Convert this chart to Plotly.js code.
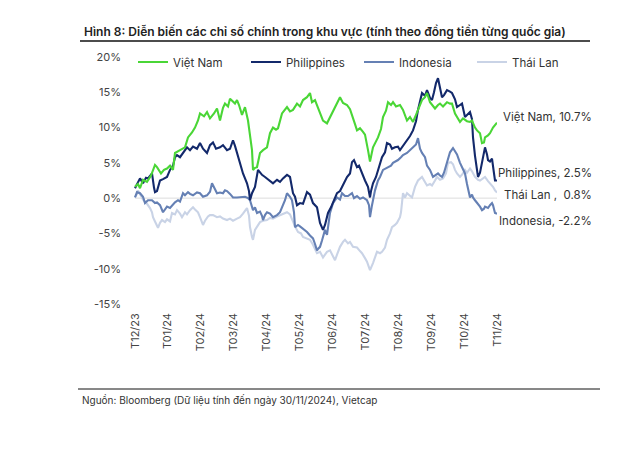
<!DOCTYPE html>
<html><head><meta charset="utf-8">
<script src="https://cdn.plot.ly/plotly-3.0.1.min.js"></script>
<style>html,body{margin:0;padding:0;background:#fff}#c{width:636px;height:473px}</style>
</head><body><div id="c"></div>
<script>
const monthLabels = ["T12/23","T01/24","T02/24","T03/24","T04/24","T05/24","T06/24","T07/24","T08/24","T09/24","T10/24","T11/24"];
const yTickVals = [-15,-10,-5,0,5,10,15,20];
const yTickText = ["-15%","-10%","-5%","0%","5%","10%","15%","20%"];
const seriesNames = ["Việt Nam","Philippines","Indonesia","Thái Lan"];

const vnX = [0,3,5,8,12,16,20,22,26,29,32,35,38,40,45,50,53,57,60,63,65,69,72,75,79,82,85,88,90,93,95,98,100,102,104,107,110,113,115,117,118,120,122,125,128,132,135,138,141,143,147,150,152,155,158,162,165,168,172,175,177,180,183,185,188,192,195,197,200,202,205,208,212,215,218,220,222,225,228,230,233,235,238,241,243,246,248,251,253,256,258,261,265,268,272,275,278,281,283,287,290,292,295,297,300,303,305,308,312,315,317,320,322,325,328,332,335,337,340,342,345,347,349,350,353,355,358,360,362];
const vnY = [1.6,2.0,1.4,2.6,2.3,3.2,4.7,4.4,3.5,4.0,4.2,4.6,4.0,6.4,6.8,7.2,8.6,9.3,10.0,11.0,12.0,11.6,12.2,11.3,12.0,12.7,11.0,12.8,13.4,13.0,14.1,13.6,13.4,13.9,13.2,11.8,12.9,11.0,9.0,6.8,4.0,4.3,4.4,6.4,6.8,7.2,9.2,10.0,9.7,9.9,12.0,12.5,12.9,12.3,12.5,13.4,13.0,13.9,14.3,14.9,13.6,13.9,12.9,12.2,11.0,10.6,11.5,12.0,12.8,13.6,14.3,13.5,13.2,12.6,11.5,10.5,9.6,9.9,9.4,9.0,6.8,5.2,7.2,8.0,8.6,9.8,11.5,12.4,13.6,13.2,13.6,13.0,13.2,12.5,11.0,11.5,10.8,11.8,12.5,13.9,14.3,14.9,13.6,13.2,12.7,13.2,13.4,13.0,13.6,13.4,13.4,12.0,11.5,10.8,11.3,10.9,10.8,11.0,10.0,9.6,9.2,7.8,7.9,8.6,8.9,9.2,10.0,10.4,10.7];

const phX = [0,3,5,8,11,13,15,17,19,20,22,25,28,32,35,38,40,42,45,48,52,55,58,62,65,68,72,75,78,81,85,88,92,95,98,100,102,105,108,110,112,114,115,117,120,123,125,127,130,134,138,142,145,148,152,155,158,160,162,165,168,172,175,178,180,182,185,188,190,193,196,198,202,205,207,210,212,215,217,219,222,224,227,230,233,235,236,238,241,243,247,250,252,255,257,260,263,265,268,272,275,278,281,283,285,287,290,292,295,297,299,301,303,305,307,309,312,315,317,320,322,325,327,330,332,335,337,338,340,342,343,345,347,349,350,352,353,355,357,359,360,362];
const phY = [1.4,2.4,2.8,2.1,2.9,2.8,3.2,3.5,1.5,0.85,1.0,2.5,2.7,3.0,4.0,4.6,5.8,6.1,5.8,6.4,7.2,6.8,7.3,7.0,7.8,7.0,6.4,7.5,7.9,7.0,7.2,7.5,6.8,7.0,8.2,7.4,6.4,4.7,3.5,2.8,2.1,1.0,-0.3,0.7,1.6,4.0,3.6,3.3,3.0,2.6,2.1,2.6,2.3,2.8,3.3,3.0,0.7,0.2,-1.0,-0.7,-0.8,0.85,0.5,-0.7,-1.0,-1.3,-3.5,-4.5,-3.8,-2.1,-1.3,-0.7,0.7,1.0,1.6,2.3,3.0,3.5,5.1,5.4,4.4,4.6,3.5,2.5,1.6,0.1,1.0,2.1,3.0,4.0,5.8,6.5,7.8,7.6,7.0,7.2,7.3,6.8,7.4,8.2,8.8,9.6,10.9,12.5,13.8,14.9,14.5,15.3,14.2,13.9,15.0,16.3,17.0,15.8,14.3,14.6,15.3,15.1,14.9,14.0,12.9,13.2,13.4,11.5,11.8,12.2,11.2,8.6,6.0,4.0,3.0,3.6,5.0,6.0,7.2,6.2,5.4,5.2,5.6,3.5,2.5,2.5];

const idX = [0,2,5,8,10,13,17,20,22,25,28,30,32,35,38,40,43,45,48,50,53,55,58,62,65,68,72,75,77,79,82,85,88,90,92,95,98,102,105,108,110,113,115,118,120,122,125,127,128,130,132,135,138,142,145,147,150,152,155,157,159,160,163,165,168,172,175,178,180,182,183,185,187,190,192,195,198,200,202,205,207,210,213,217,219,222,225,228,232,234,235,237,240,243,245,248,251,253,256,258,261,263,266,268,272,275,278,281,283,285,287,290,292,295,298,300,303,305,307,309,312,315,318,320,322,325,327,330,332,335,337,338,340,342,345,347,349,350,353,355,357,358,360,362];
const idY = [0.1,0.85,0.7,0.2,-0.7,-0.3,-0.3,-0.7,-0.6,-1.0,-2.0,-1.6,-1.2,-1.4,-0.9,-0.6,-0.3,-0.5,0.7,0.4,0.85,0.6,0.4,0.8,0.7,0.2,0.4,0.9,2.1,1.5,0.7,0.8,0.7,1.1,1.0,0.6,0.1,0.1,0.1,0.1,0.2,0.0,-0.3,-1.7,-1.3,-2.1,-1.9,-2.5,-3.1,-2.4,-2.0,-2.2,-2.7,-2.4,-2.0,-1.3,-0.3,0.7,0.2,-0.3,-2.0,-4.1,-3.8,-4.0,-4.3,-4.8,-5.3,-5.7,-6.5,-7.4,-7.2,-6.9,-6.0,-4.5,-5.2,-2.1,-0.7,-0.3,0.1,-0.2,0.7,0.3,0.3,0.7,0.0,0.3,-0.1,0.1,-0.3,-1.0,-2.7,-1.0,1.1,2.5,3.0,4.0,4.2,4.4,4.6,5.0,5.2,5.4,5.8,6.1,6.4,6.8,7.2,7.6,8.5,7.0,6.4,5.8,4.6,4.0,3.0,3.2,3.5,3.2,3.0,3.6,5.0,6.5,7.1,6.7,6.2,5.0,4.4,3.5,2.0,0.1,0.5,0.1,-0.3,-0.6,-1.2,-1.7,-1.5,-1.2,-1.4,-1.0,-0.7,-1.0,-2.1,-2.2];

const thX = [0,2,3,5,8,12,15,17,18,20,23,25,27,30,32,35,37,40,42,45,47,50,52,55,58,60,63,65,68,70,73,75,78,82,85,88,92,95,98,102,105,108,112,114,115,117,118,120,122,125,128,132,135,138,142,145,148,152,155,158,160,163,166,168,172,175,178,180,182,185,188,190,192,195,198,200,202,205,208,210,213,215,218,222,225,227,230,232,234,235,238,240,242,245,247,250,252,255,257,260,262,265,266,268,270,272,275,277,280,283,287,290,292,295,297,300,302,305,308,311,313,316,318,320,322,325,328,330,332,335,337,340,343,345,348,350,353,355,358,360,362];
const thY = [0.1,0.6,1.1,0.5,-0.2,-0.8,-1.4,-2.0,-2.7,-3.3,-4.2,-3.5,-3.1,-3.4,-3.0,-3.3,-2.1,-2.3,-1.7,-2.2,-2.7,-2.0,-2.3,-1.7,-1.3,-1.6,-2.0,-2.7,-3.8,-3.2,-2.6,-2.4,-2.4,-2.7,-2.6,-2.9,-3.1,-2.9,-3.2,-2.9,-2.7,-2.2,-1.4,-2.5,-4.1,-5.5,-5.9,-4.5,-4.1,-3.4,-3.2,-3.1,-2.8,-2.9,-2.6,-2.4,-2.2,-2.0,-2.3,-3.4,-4.0,-4.8,-5.0,-5.5,-5.7,-5.9,-6.6,-7.3,-7.8,-7.6,-8.4,-8.0,-7.6,-7.4,-8.2,-8.8,-8.0,-6.9,-6.2,-5.9,-6.4,-6.2,-6.9,-7.0,-7.5,-7.8,-8.5,-9.0,-9.8,-10.2,-9.2,-8.3,-7.6,-7.8,-7.6,-7.0,-5.9,-5.0,-4.1,-3.8,-3.5,-2.7,-2.0,0.7,0.1,0.7,0.3,0.1,1.6,2.5,3.0,2.2,1.8,2.0,1.8,2.5,3.0,2.6,2.8,3.5,5.0,5.1,4.8,4.0,3.5,3.0,3.5,4.0,3.6,4.2,3.8,3.0,2.6,2.5,2.8,3.0,2.4,2.1,1.6,1.1,0.8];

const colors = ["#4ad636","#13296b","#6580b4","#c9d3e6"];
const xs = [vnX, phX, idX, thX];
const ys = [vnY, phY, idY, thY];

const W = 636, H = 473;
const L = 128, R = 10, T = 57, B = 169;
const pw = W - L - R, ph = H - T - B;
const px = x => (x - L) / pw;
const py = y => (H - B - y) / ph;
const xMax = 362, xMin = -7;
const plotRight = 497;

const traces = seriesNames.map((n, i) => ({
  x: xs[i], y: ys[i], name: n, type: "scatter", mode: "lines",
  line: {color: colors[i], width: 2.1}
}));
const order = [3,2,1,0];
const data = order.map(i => Object.assign({}, traces[i], {legendrank: i+1}));

const endLabelY = [117, 173, 195, 221];
const endLabelText = [
  `Việt Nam, ${vnY[vnY.length-1]}%`,
  `Philippines, ${phY[phY.length-1]}%`,
  `Thái Lan ,  ${thY[thY.length-1]}%`,
  `Indonesia, ${idY[idY.length-1]}%`
];

const font = "Inter, 'Noto Sans', sans-serif";
const annotations = endLabelText.map((t, i) => ({
  xref: "paper", yref: "paper", x: px(594), y: py(endLabelY[i]),
  xanchor: "right", yanchor: "middle", text: t, showarrow: false,
  font: {family: font, size: 11.5, color: "#333"}
}));
annotations.push({
  xref: "paper", yref: "paper", x: px(80), y: py(400), xanchor: "left", yanchor: "middle",
  text: "Nguồn: Bloomberg (Dữ liệu tính đến ngày 30/11/2024), Vietcap", showarrow: false,
  font: {family: font, size: 10, color: "#333"}
});

const layout = {
  width: W, height: H,
  margin: {l: L, r: R, t: T, b: B},
  paper_bgcolor: "#fff", plot_bgcolor: "#fff",
  title: {text: "Hình 8: Diễn biến các chỉ số chính trong khu vực (tính theo đồng tiền từng quốc gia)",
    xref: "container", yref: "container", x: 84/W, xanchor: "left", y: 1 - 32/H, yanchor: "middle",
    font: {family: font, size: 12, color: "#222", weight: 600}},
  showlegend: true,
  legend: {orientation: "h", x: px(133), xanchor: "left", y: py(62), yanchor: "middle",
    traceorder: "normal", entrywidth: 68, entrywidthmode: "pixels",
    font: {family: font, size: 11.5, color: "#333"}, bgcolor: "rgba(0,0,0,0)"},
  xaxis: {domain: [0, (plotRight - L) / pw], range: [xMin, xMax], tickmode: "array",
    tickvals: monthLabels.map((_, i) => i * xMax / (monthLabels.length - 1)),
    ticktext: monthLabels, tickangle: -90, showgrid: false, zeroline: false, showline: false,
    ticks: "", ticklabelstandoff: 6, tickfont: {family: font, size: 11, color: "#444"}, fixedrange: true},
  yaxis: {range: [-15, 20], tickmode: "array", tickvals: yTickVals, ticktext: yTickText,
    showgrid: false, zeroline: false, showline: false,
    ticks: "", ticklabelstandoff: 6, tickfont: {family: font, size: 11, color: "#444"}, fixedrange: true},
  shapes: [
    {type: "line", xref: "x", yref: "y", x0: 0, x1: xMax, y0: 0, y1: 0, layer: "below",
      line: {color: "#dcdcdc", width: 1}},
    {type: "line", xref: "paper", yref: "paper", x0: px(80), x1: px(590), y0: py(41), y1: py(41),
      line: {color: "#111", width: 1.3}},
    {type: "line", xref: "paper", yref: "paper", x0: px(78), x1: px(600), y0: py(389), y1: py(389),
      line: {color: "#111", width: 1}}
  ],
  annotations: annotations
};

Plotly.newPlot("c", data, layout, {displayModeBar: false, staticPlot: true});
</script>
</body></html>
